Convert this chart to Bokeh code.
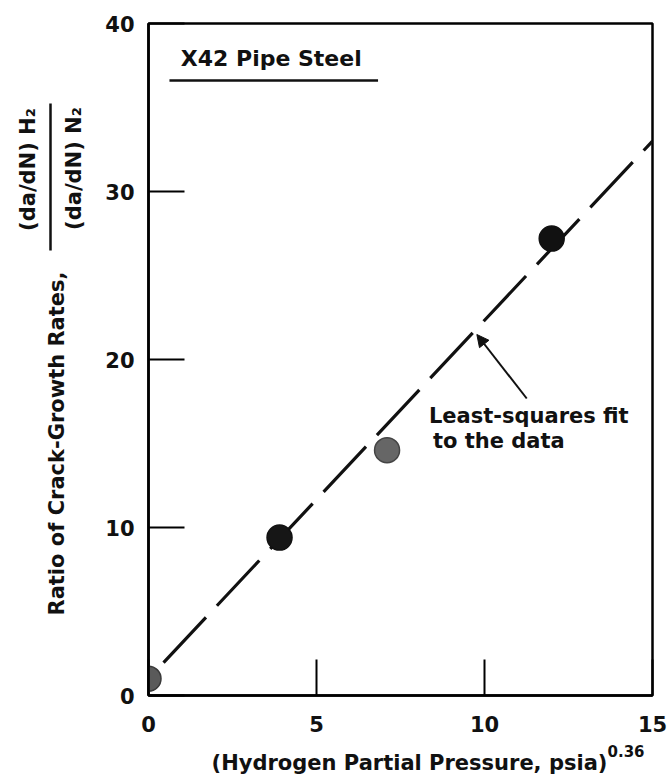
import math
from bokeh.plotting import figure
from bokeh.layouts import row, column
from bokeh.models import Range1d, Label, Arrow, NormalHead, ColumnDataSource, FixedTicker
from bokeh.embed import file_html
from bokeh.resources import INLINE

# ---- data ----
pressure_x = [0.0, 3.9, 7.1, 12.0]
ratio_y = [1.0, 9.4, 14.6, 27.2]
point_fill = ["#5a5a5a", "#161616", "#666666", "#111111"]
point_edge = ["#3a3a3a", "#111111", "#444444", "#111111"]
fit_x = [0.0, 15.0]
fit_y = [1.0, 33.0]
x_ticks = [0, 5, 10, 15]
y_ticks = [0, 10, 20, 30, 40]

FONT = "DejaVu Sans"
INK = "#111111"

W, H = 670, 775
LEFT_W = 102          # width of the y-title strip
TOP_H = 740           # height of the upper row
MAIN_W = W - LEFT_W
L, R, T = 45, 18, 23
FRAME_H = 672
B = TOP_H - T - FRAME_H

p = figure(width=MAIN_W, height=TOP_H, output_backend="svg", toolbar_location=None,
           x_range=Range1d(0, 15), y_range=Range1d(0, 40),
           min_border_left=L, min_border_right=R, min_border_top=T, min_border_bottom=B)
p.grid.visible = False
p.background_fill_color = "white"
p.border_fill_color = "white"
p.outline_line_color = "black"
p.outline_line_width = 2.5

for ax, ticks in ((p.xaxis, x_ticks), (p.yaxis, y_ticks)):
    ax.ticker = FixedTicker(ticks=ticks)
    ax.axis_line_width = 2.5
    ax.axis_line_color = "black"
    ax.major_tick_in = 36
    ax.major_tick_out = 0
    ax.major_tick_line_width = 2
    ax.major_tick_line_color = "black"
    ax.minor_tick_line_color = None
    ax.major_label_text_font = FONT
    ax.major_label_text_font_style = "bold"
    ax.major_label_text_font_size = "21px"
    ax.major_label_text_color = INK
p.xaxis.major_label_standoff = 20
p.yaxis.major_label_standoff = 14

# fit line and points
p.line(fit_x, fit_y, line_color=INK, line_width=3.2, line_dash="62 16", line_dash_offset=56)
src = ColumnDataSource(dict(x=pressure_x, y=ratio_y, f=point_fill, e=point_edge))
p.scatter("x", "y", source=src, size=25, fill_color="f", line_color="e", line_width=1.5)

# page-pixel -> main-plot data helpers (frame: x 147..652, y 23..695)
FX0, FX1, FY0, FY1 = LEFT_W + L, W - R, T, T + FRAME_H

def dx(px):
    return (px - FX0) * 15.0 / (FX1 - FX0)

def dy(py):
    return (FY1 - py) * 40.0 / (FY1 - FY0)

def lab(fig, x, y, text, size, angle=0, align="center", baseline="middle"):
    fig.add_layout(Label(x=x, y=y, text=text, angle=angle,
                         text_font=FONT, text_font_size=size, text_font_style="bold",
                         text_align=align, text_baseline=baseline, text_color=INK))

# title box
lab(p, dx(270), dy(58), "X42 Pipe Steel", "22px")
p.add_layout(Arrow(end=None, x_start=dx(168), y_start=dy(80), x_end=dx(377), y_end=dy(80),
                   line_width=2.5, line_color=INK))

# annotation
lab(p, dx(428), dy(415), "Least-squares fit", "21px", align="left")
lab(p, dx(432), dy(440), "to the data", "21px", align="left")
p.add_layout(Arrow(end=NormalHead(size=12, fill_color=INK, line_color=INK),
                   x_start=dx(526), y_start=dy(398), x_end=dx(476), y_end=dy(334),
                   line_width=2, line_color=INK))


def strip(width, height, top=0, bottom=0):
    f = figure(width=width, height=height, output_backend="svg", toolbar_location=None,
               x_range=Range1d(0, width), y_range=Range1d(0, height - top - bottom),
               min_border=0, min_border_left=0, min_border_right=0,
               min_border_top=top, min_border_bottom=bottom)
    f.axis.visible = False
    f.grid.visible = False
    f.outline_line_color = None
    f.background_fill_color = "white"
    f.border_fill_color = "white"
    return f

# y-axis title strip: its frame lines up with the main frame (page y 23..695)
ly = strip(LEFT_W, TOP_H, top=T, bottom=B)
def ypx(py):
    return FY1 - py
lab(ly, 56, ypx(443), "Ratio of Crack-Growth Rates,", "21px", angle=math.pi / 2)
lab(ly, 27, ypx(169), "(da/dN) H\u2082", "21px", angle=math.pi / 2)
lab(ly, 73, ypx(168), "(da/dN) N\u2082", "21px", angle=math.pi / 2)
ly.add_layout(Arrow(end=None, x_start=50, y_start=ypx(103), x_end=50, y_end=ypx(250),
                    line_width=2.5, line_color=INK))

# x-axis title strip (page y 740..775)
BOT_H = H - TOP_H
bx = strip(W, BOT_H)
def bpx(py):
    return H - py
lab(bx, 409, bpx(762), "(Hydrogen Partial Pressure, psia)", "21px")
lab(bx, 607, bpx(750), "0.36", "15px", align="left")

layout = column(row(ly, p, spacing=0), bx, spacing=0)
open("out.html", "w").write(file_html(layout, INLINE))
